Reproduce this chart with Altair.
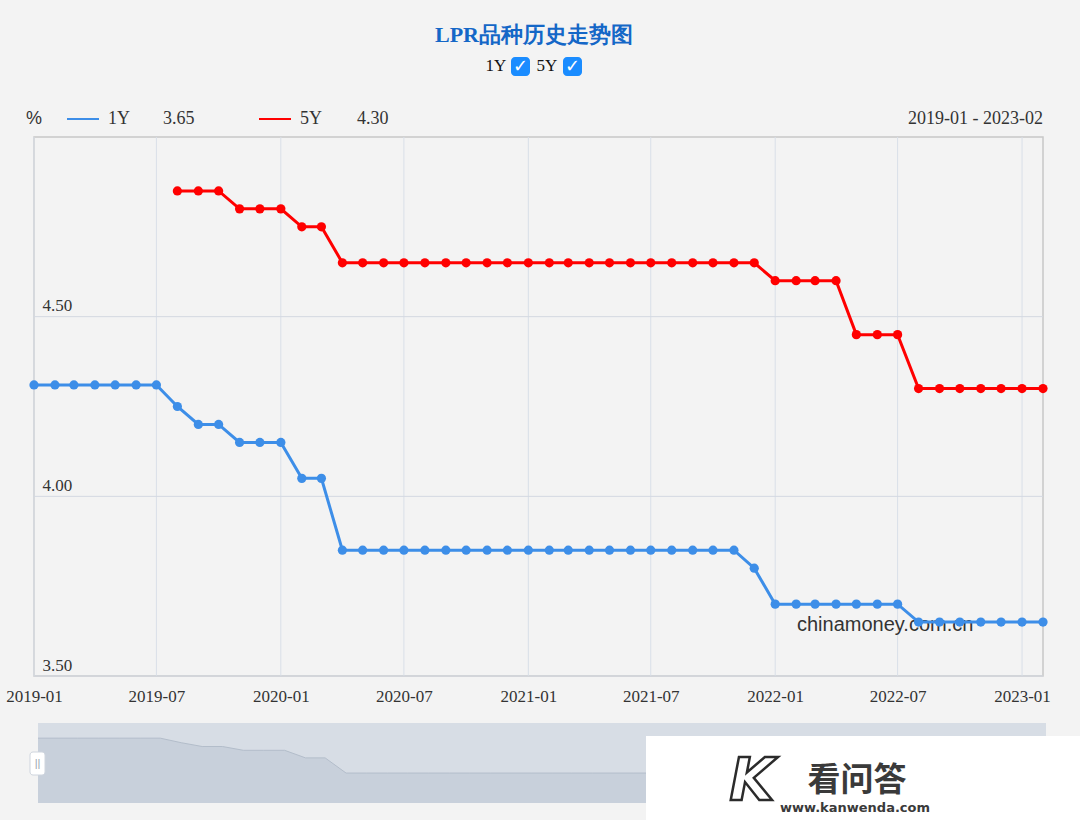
import altair as alt
import pandas as pd

# ---------------- data ----------------
months = [
    "2019-01", "2019-02", "2019-03", "2019-04", "2019-05", "2019-06", "2019-07",
    "2019-08", "2019-09", "2019-10", "2019-11", "2019-12",
    "2020-01", "2020-02", "2020-03", "2020-04", "2020-05", "2020-06",
    "2020-07", "2020-08", "2020-09", "2020-10", "2020-11", "2020-12",
    "2021-01", "2021-02", "2021-03", "2021-04", "2021-05", "2021-06",
    "2021-07", "2021-08", "2021-09", "2021-10", "2021-11", "2021-12",
    "2022-01", "2022-02", "2022-03", "2022-04", "2022-05", "2022-06",
    "2022-07", "2022-08", "2022-09", "2022-10", "2022-11", "2022-12",
    "2023-01", "2023-02",
]
lpr_1y = [
    4.31, 4.31, 4.31, 4.31, 4.31, 4.31, 4.31,
    4.25, 4.20, 4.20, 4.15, 4.15,
    4.15, 4.05, 4.05, 3.85, 3.85, 3.85,
    3.85, 3.85, 3.85, 3.85, 3.85, 3.85,
    3.85, 3.85, 3.85, 3.85, 3.85, 3.85,
    3.85, 3.85, 3.85, 3.85, 3.85, 3.80,
    3.70, 3.70, 3.70, 3.70, 3.70, 3.70,
    3.70, 3.65, 3.65, 3.65, 3.65, 3.65,
    3.65, 3.65,
]
lpr_5y = [
    None, None, None, None, None, None, None,
    4.85, 4.85, 4.85, 4.80, 4.80,
    4.80, 4.75, 4.75, 4.65, 4.65, 4.65,
    4.65, 4.65, 4.65, 4.65, 4.65, 4.65,
    4.65, 4.65, 4.65, 4.65, 4.65, 4.65,
    4.65, 4.65, 4.65, 4.65, 4.65, 4.65,
    4.60, 4.60, 4.60, 4.60, 4.45, 4.45,
    4.45, 4.30, 4.30, 4.30, 4.30, 4.30,
    4.30, 4.30,
]
series_names = ["1Y", "5Y"]
series_colors = ["#3d8ee8", "#ff0000"]
x_tick_labels = ["2019-01", "2019-07", "2020-01", "2020-07", "2021-01",
                 "2021-07", "2022-01", "2022-07", "2023-01"]
y_tick_values = [3.5, 4.0, 4.5]
y_domain = [3.5, 5.0]
slider_domain = [3.455, 4.51]
title_text = "LPR品种历史走势图"
unit_text = "%"
source_text = "chinamoney.com.cn"
wm_main = "看问答"
wm_url = "www.kanwenda.com"

# ---------------- tables ----------------
rows = []
for m, a, b in zip(months, lpr_1y, lpr_5y):
    rows.append({"date": m + "-01", "series": "1Y", "value": a})
    if b is not None:
        rows.append({"date": m + "-01", "series": "5Y", "value": b})
df = pd.DataFrame(rows)
df1 = df[df["series"] == "1Y"].reset_index(drop=True)
df_xgrid = pd.DataFrame({"date": [s + "-01" for s in x_tick_labels]})
df_ygrid = pd.DataFrame({"value": y_tick_values})


def dt(s):
    y, mo = s.split("-")
    return alt.DateTime(year=int(y), month=int(mo), date=1, utc=True)


OX, OY = 34, 137  # plot origin in page pixels
W, H = 1009, 539
SERIF = "Liberation Serif"
SANS = "Liberation Sans"
x_dom = [dt(months[0]), dt(months[-1])]

x_enc = alt.X(
    "date:T",
    scale=alt.Scale(type="utc", domain=x_dom),
    axis=alt.Axis(
        values=[dt(s) for s in x_tick_labels],
        labelExpr="utcFormat(datum.value, '%Y-%m')",
        ticks=False, domain=False, grid=False, labelPadding=12, labelFlush=False,
        labelOverlap=False, labelFont=SERIF, labelFontSize=17,
        labelColor="#333333", title=None,
    ),
)
y_enc = alt.Y(
    "value:Q",
    scale=alt.Scale(domain=y_domain, zero=False, nice=False),
    axis=alt.Axis(
        values=y_tick_values, format=".2f", ticks=False, domain=False, grid=False,
        labelAlign="left", labelBaseline="bottom", labelPadding=-8,
        labelOffset=-2, labelFont=SERIF, labelFontSize=17,
        labelColor="#333333", title=None,
    ),
)
color_enc = alt.Color("series:N",
                      scale=alt.Scale(domain=series_names, range=series_colors),
                      legend=None)

xgrid = alt.Chart(df_xgrid).mark_rule(color="#d9dfe8", strokeWidth=1).encode(
    x=alt.X("date:T"), y=alt.value(0), y2=alt.value(H))
ygrid = alt.Chart(df_ygrid).mark_rule(color="#d3d8e1", strokeWidth=1).encode(
    y=alt.Y("value:Q"), x=alt.value(0), x2=alt.value(W))
lines = alt.Chart(df).mark_line(strokeWidth=3).encode(x=x_enc, y=y_enc, color=color_enc)
points = alt.Chart(df).mark_circle(size=85, opacity=1).encode(x=x_enc, y=y_enc, color=color_enc)


def text(t, x, y, **kw):
    return alt.Chart(pd.DataFrame({"t": [t]})).mark_text(**kw).encode(
        text="t:N", x=alt.value(x - OX), y=alt.value(y - OY))


def rect(x1, x2, y1, y2, **kw):
    return alt.Chart(pd.DataFrame({"a": [0]})).mark_rect(**kw).encode(
        x=alt.value(x1 - OX), x2=alt.value(x2 - OX),
        y=alt.value(y1 - OY), y2=alt.value(y2 - OY))


def seg(x1, x2, y, color):
    return alt.Chart(pd.DataFrame({"a": [0]})).mark_rule(color=color, strokeWidth=2).encode(
        x=alt.value(x1 - OX), x2=alt.value(x2 - OX), y=alt.value(y - OY))


src = text(source_text, 797, 625, align="left", font=SANS, fontSize=20, color="#333333")

main = alt.layer(xgrid, ygrid, src, lines, points)

# slider (data zoom) at the bottom
slider_bg = rect(38, 1046, 723, 803, color="#d7dde5")
slider_area = alt.Chart(df1).mark_area(
    color="#c8d0db", line={"color": "#b3bdca", "strokeWidth": 1}, opacity=1
).encode(
    x=alt.X("date:T", scale=alt.Scale(type="utc", domain=x_dom,
                                      range=[38 - OX, 1046 - OX]), axis=None),
    y=alt.Y("value:Q", scale=alt.Scale(domain=slider_domain, range=[803 - OY, 723 - OY],
                                       zero=False, nice=False, clamp=True), axis=None),
    y2=alt.datum(slider_domain[0]),
)
handle = rect(30, 45, 752, 775, color="#ffffff", cornerRadius=3, stroke="#cfd5de")
handle_t = text("||", 37.5, 764, font=SANS, fontSize=11, color="#9aa3ae")

# watermark box
wm_box = rect(646, 1080, 736, 820, color="#ffffff")
wm_k = text("K", 752, 783, font="DejaVu Sans", fontSize=58, fontWeight="bold",
            fill="#ffffff", stroke="#2b2b2b", strokeWidth=2.5, fontStyle="italic")
wm_t1 = text(wm_main, 857, 781, font="Noto Sans CJK SC", fontSize=33, fontWeight="bold",
             color="#3a3a3a")
wm_t2 = text(wm_url, 855, 808, font="DejaVu Sans", fontSize=13, fontWeight="bold",
             color="#3a3a3a")

# title & checkboxes
title = text(title_text, 534, 35, font=SERIF, fontSize=22, fontWeight="bold",
             color="#1467c7")
cb = [
    text("1Y", 496, 66, font=SERIF, fontSize=17, color="#111111"),
    rect(511, 530, 57, 76, color="#1a8cff", cornerRadius=4),
    text("✓", 520.5, 67, font="DejaVu Sans", fontSize=18, fontWeight="bold", color="#ffffff"),
    text("5Y", 547, 66, font=SERIF, fontSize=17, color="#111111"),
    rect(563, 582, 57, 76, color="#1a8cff", cornerRadius=4),
    text("✓", 572.5, 67, font="DejaVu Sans", fontSize=18, fontWeight="bold", color="#ffffff"),
]

# legend row
legend = [
    text(unit_text, 34, 119, font=SANS, fontSize=18, color="#333333"),
    seg(67, 99, 119, series_colors[0]),
    text(series_names[0], 108, 119, align="left", font=SERIF, fontSize=18, color="#333333"),
    text(f"{lpr_1y[-1]:.2f}", 163, 119, align="left", font=SERIF, fontSize=18, color="#333333"),
    seg(259, 291, 119, series_colors[1]),
    text(series_names[1], 300, 119, align="left", font=SERIF, fontSize=18, color="#333333"),
    text(f"{lpr_5y[-1]:.2f}", 357, 119, align="left", font=SERIF, fontSize=18, color="#333333"),
    text(f"{months[0]} - {months[-1]}", 1043, 119, align="right", font=SERIF, fontSize=18,
         color="#333333"),
]

chart = alt.layer(
    slider_bg, slider_area, handle, handle_t, wm_box, wm_k, wm_t1, wm_t2,
    main, title, *cb, *legend,
).resolve_scale(x="independent", y="independent").properties(
    width=W, height=H,
    autosize=alt.AutoSizeParams(type="none"),
    padding={"left": OX, "top": OY, "right": 1080 - OX - W, "bottom": 820 - OY - H},
    background="#f3f3f3",
).configure_view(stroke="#c8c8c8", strokeWidth=1.5)

chart.save("out.html", embed_options={"renderer": "svg", "actions": False})
